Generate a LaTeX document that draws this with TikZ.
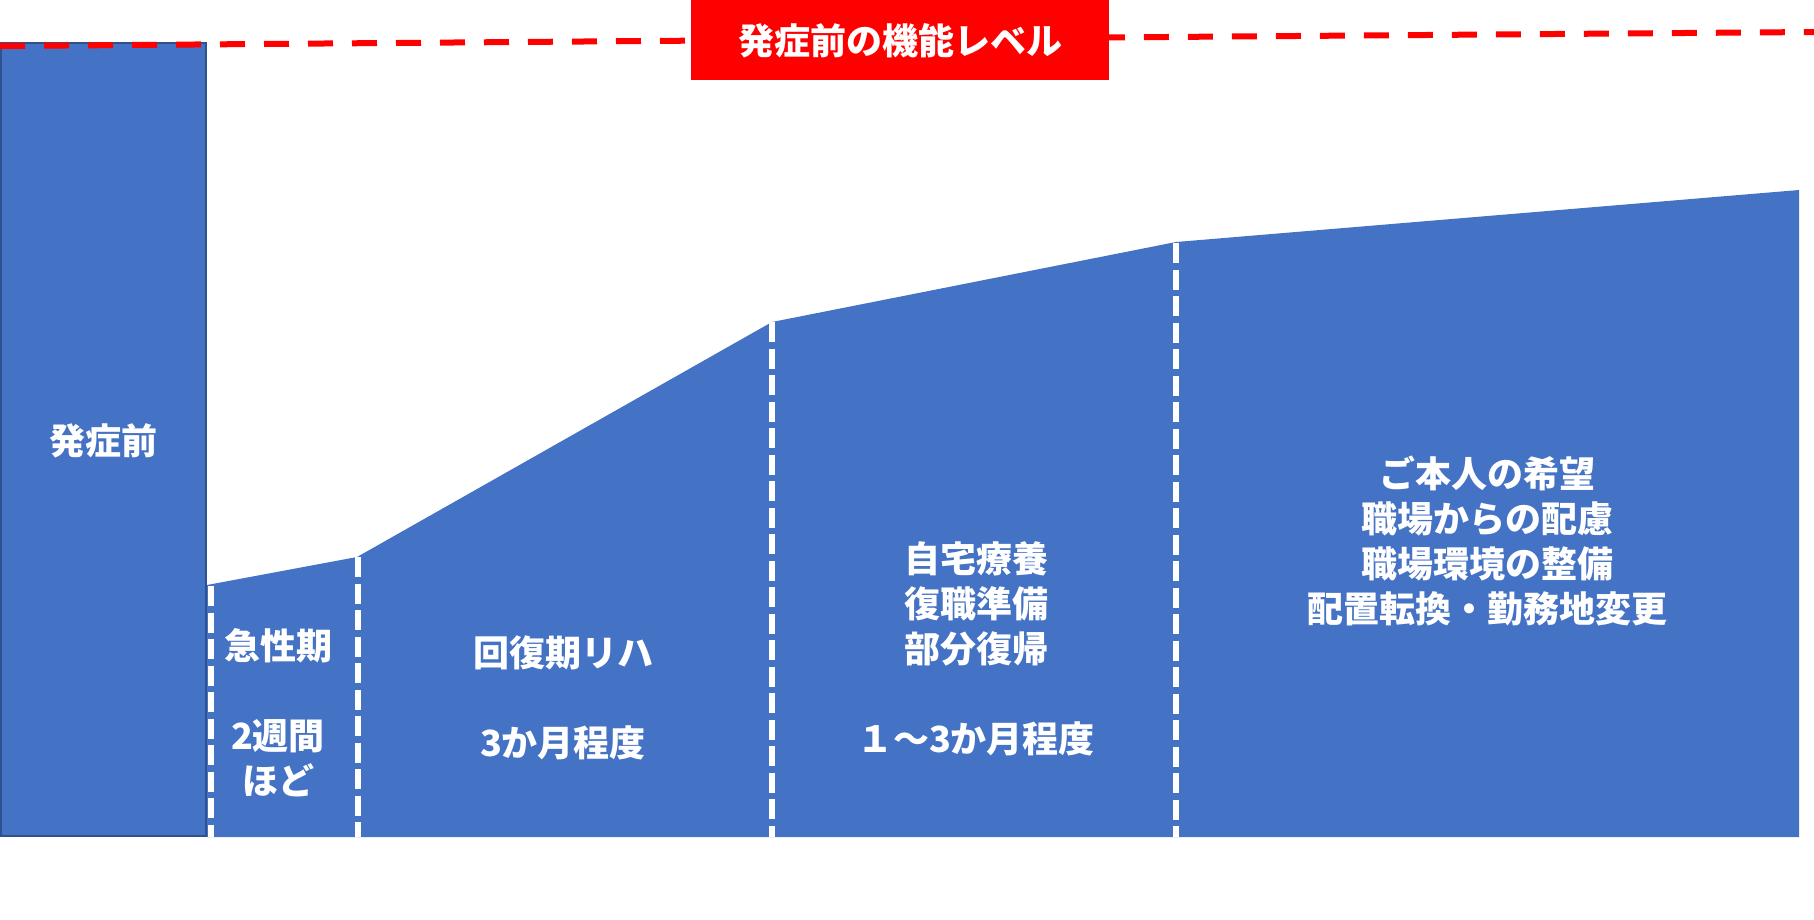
\documentclass[tikz,border=0pt]{standalone}
\usepackage{fontspec}
\newfontfamily\jp{Noto Sans CJK JP}
\definecolor{mblue}{HTML}{4472C4}
\definecolor{dblue}{HTML}{2F528F}
\definecolor{mred}{HTML}{FF0000}
\tikzset{
  lbl/.style={text=white, font=\jp\bfseries\fontsize{36}{45}\selectfont, align=center, inner sep=0pt},
  sep/.style={draw=white, line width=5.5pt, dash pattern=on 20pt off 6.5pt},
}
\begin{document}
\begin{tikzpicture}[x=1pt,y=-1pt]
\useasboundingbox (0,0) rectangle (1814,919);
% pre-onset bar
\draw[fill=mblue, draw=dblue, line width=1.5pt] (1,43) rectangle (206,836);
% recovery area
\fill[mblue] (207,585) -- (357,557) -- (772,322) -- (1176,242) -- (1799,190) -- (1799,837) -- (207,837) -- cycle;
% separators
\coordinate (s1t) at (211,586); \coordinate (s1b) at (211,837);
\coordinate (s2t) at (358,557); \coordinate (s2b) at (358,837);
\coordinate (s3t) at (772,322); \coordinate (s3b) at (772,837);
\coordinate (s4t) at (1176,243); \coordinate (s4b) at (1176,837);
\draw[sep] (s1t) -- (s1b);
\draw[sep] (s2t) -- (s2b);
\draw[sep] (s3t) -- (s3b);
\draw[sep] (s4t) -- (s4b);
% pre-onset level line
\coordinate (la) at (0,46);
\coordinate (lb) at (1814,32);
\draw[mred, line width=6pt, dash pattern=on 25pt off 19pt] (la) -- (lb);
\node[fill=mred, minimum width=418pt, minimum height=80pt, inner sep=0pt, anchor=north west] (title) at (691,0) {};
\node[lbl] (titletext) at (900,41) {発症前の機能レベル};
% labels
\node[lbl] (pre) at (103,441) {発症前};
\node[lbl, anchor=north] (acute) at (278,628) {急性期\\[0pt]\strut\\2週間\\ほど};
\node[lbl, anchor=north] (reha) at (563,636) {回復期リハ\\\strut\\3か月程度};
\node[lbl] (home) at (976,649) {自宅療養\\復職準備\\部分復帰\\\strut\\１～3か月程度};
\node[lbl] (wish) at (1487,541) {ご本人の希望\\職場からの配慮\\職場環境の整備\\配置転換・勤務地変更};
\end{tikzpicture}
\end{document}
